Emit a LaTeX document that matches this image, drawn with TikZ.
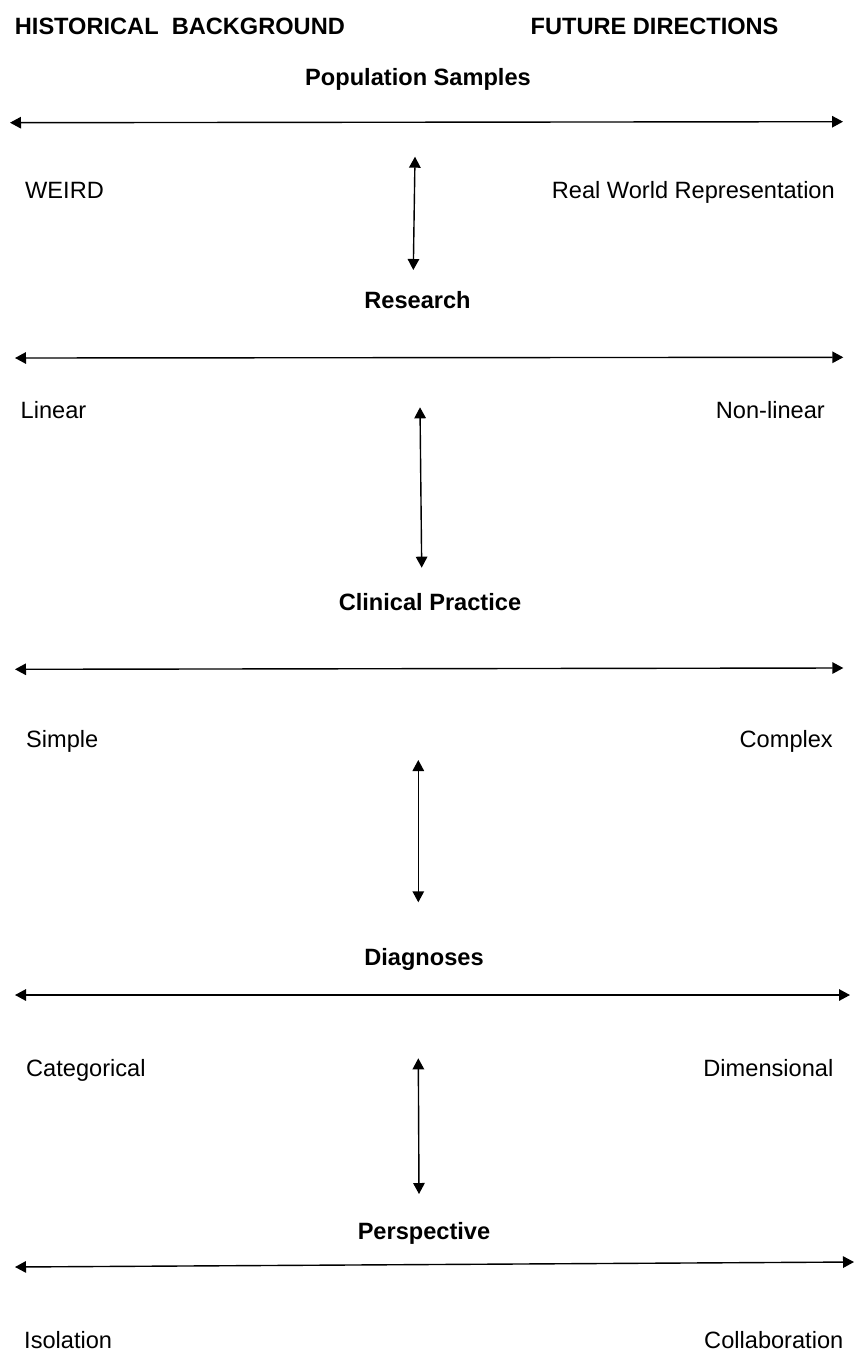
\documentclass[tikz,border=0pt]{standalone}
\usepackage{fontspec}
\setmainfont{Liberation Sans}
\usetikzlibrary{arrows.meta}
\begin{document}
\begin{tikzpicture}[x=1pt,y=-1pt,
  txt/.style={inner sep=0pt,font=\fontsize{23.6}{28}\selectfont},
  head/.style={txt,font=\fontsize{23.6}{28}\selectfont\bfseries},
  dbl/.style={line width=1.4pt,{Triangle[length=11pt,width=11.5pt]}-{Triangle[length=11pt,width=11.5pt]}}]
\useasboundingbox (0,0) rectangle (856,1351);
% headings
\node[head,anchor=base west] (hist) at (14.7,35) {HISTORICAL\ \ BACKGROUND};
\node[head,anchor=base west] (fut) at (530.5,35) {FUTURE DIRECTIONS};
% section titles
\node[head,anchor=base] (pop) at (418,86) {Population Samples};
\node[head,anchor=base] (res) at (417.5,308) {Research};
\node[head,anchor=base] (clin) at (430,610) {Clinical Practice};
\node[head,anchor=base] (diag) at (424,965) {Diagnoses};
\node[head,anchor=base] (persp) at (424,1239) {Perspective};
% left labels
\node[txt,anchor=base west] (weird) at (25,198) {WEIRD};
\node[txt,anchor=base west] (lin) at (20.5,418) {Linear};
\node[txt,anchor=base west] (simp) at (26,747) {Simple};
\node[txt,anchor=base west] (cat) at (26,1076) {Categorical};
\node[txt,anchor=base west] (iso) at (24,1348) {Isolation};
% right labels
\node[txt,anchor=base east] (real) at (835,198) {Real World Representation};
\node[txt,anchor=base east] (nonlin) at (825,418) {Non-linear};
\node[txt,anchor=base east] (comp) at (833,747) {Complex};
\node[txt,anchor=base east] (dim) at (833.5,1076) {Dimensional};
\node[txt,anchor=base east] (coll) at (843.5,1348) {Collaboration};
% horizontal arrow ends
\coordinate (h1l) at (10,122.7);  \coordinate (h1r) at (843,121.7);
\coordinate (h2l) at (15,358);    \coordinate (h2r) at (843.3,357.3);
\coordinate (h3l) at (15,669.3);  \coordinate (h3r) at (843.3,668);
\coordinate (h4l) at (15,995);    \coordinate (h4r) at (850,995);
\coordinate (h5l) at (15,1267);   \coordinate (h5r) at (854,1262);
% vertical arrow ends
\coordinate (v1t) at (415,156.7);  \coordinate (v1b) at (413.3,270);
\coordinate (v2t) at (420,407.3);  \coordinate (v2b) at (421.7,567.7);
\coordinate (v3t) at (418.3,760);  \coordinate (v3b) at (418.3,902.3);
\coordinate (v4t) at (418.3,1058.3); \coordinate (v4b) at (419,1194);
\draw[dbl] (h1l) -- (h1r);
\draw[dbl] (h2l) -- (h2r);
\draw[dbl] (h3l) -- (h3r);
\draw[dbl] (h4l) -- (h4r);
\draw[dbl] (h5l) -- (h5r);
\draw[dbl] (v1t) -- (v1b);
\draw[dbl] (v2t) -- (v2b);
\draw[dbl] (v3t) -- (v3b);
\draw[dbl] (v4t) -- (v4b);
\end{tikzpicture}
\end{document}
